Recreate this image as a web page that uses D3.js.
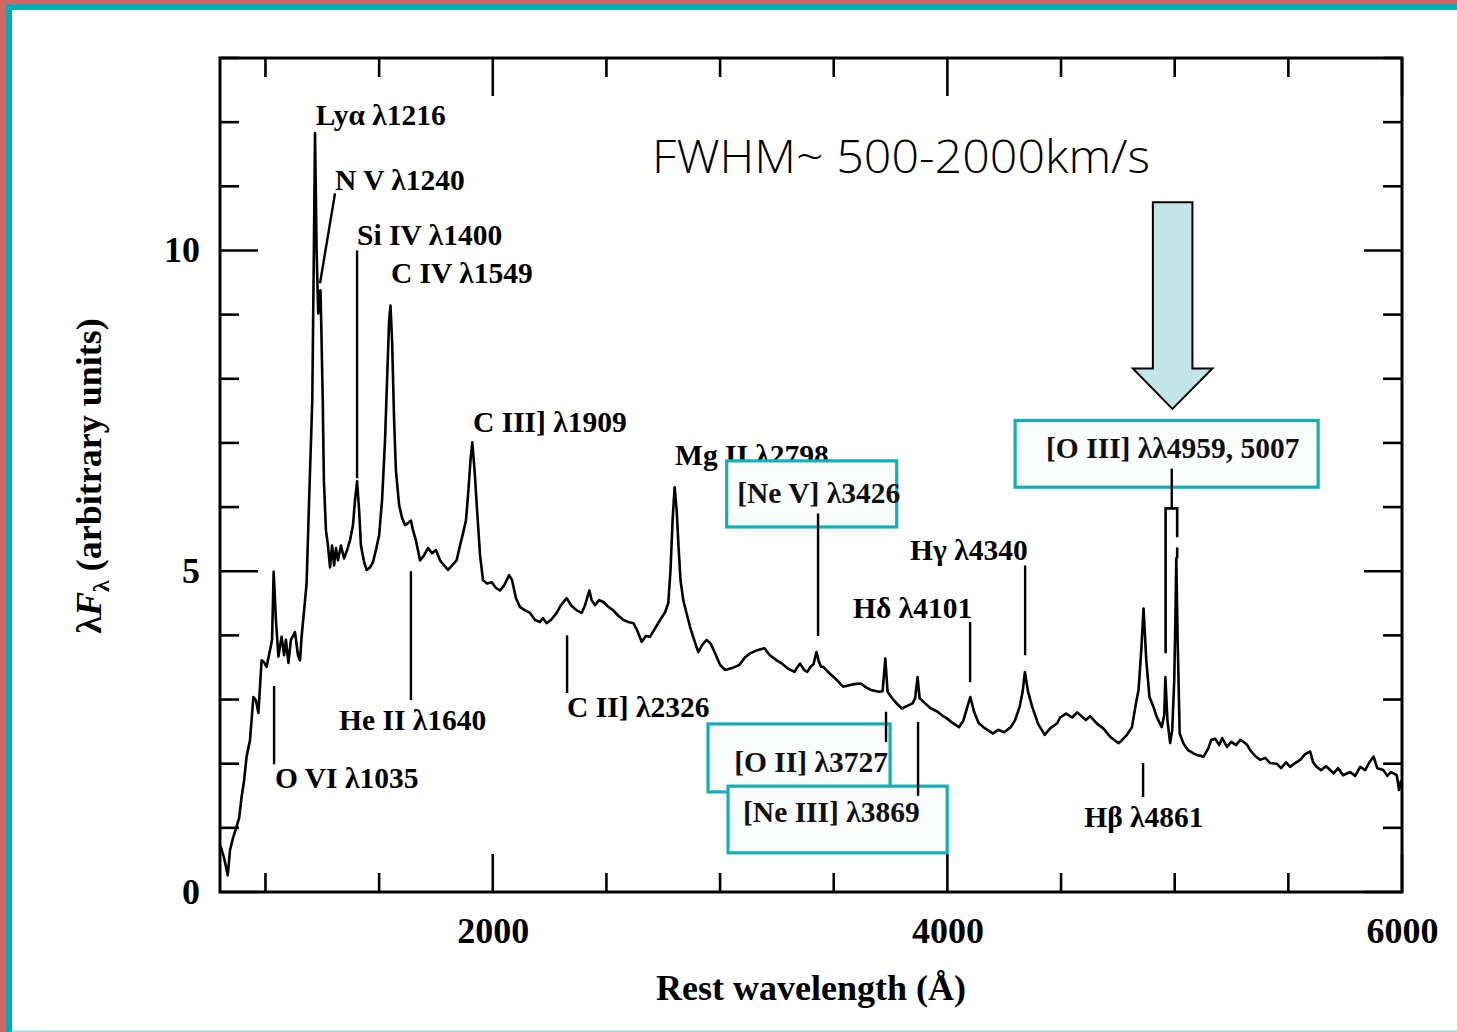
<!DOCTYPE html>
<html><head><meta charset="utf-8">
<script src="https://cdn.jsdelivr.net/npm/d3@7"></script>
<style>body{margin:0;background:#fff;overflow:hidden} svg{display:block}</style>
</head><body><svg id="c" width="1457" height="1032"></svg>
<script>
// ---- data ----
const wavelength = [803,818,834,844,857,873,884,895,906,917,932,947,958,969,983,994,1005,1020,1029,1036,1046,1057,1071,1082,1090,1101,1112,1130,1143,1152,1159,1170,1181,1192,1206,1213,1218,1225,1232,1237,1242,1246,1252,1257,1266,1275,1284,1293,1302,1310,1319,1332,1346,1359,1372,1385,1394,1403,1412,1420,1434,1445,1460,1473,1486,1500,1513,1526,1535,1544,1550,1557,1566,1574,1588,1601,1614,1627,1640,1649,1662,1680,1698,1715,1733,1750,1768,1786,1803,1821,1841,1856,1869,1882,1891,1902,1910,1920,1931,1944,1957,1975,1995,2014,2032,2050,2072,2085,2102,2120,2142,2164,2186,2208,2221,2237,2256,2281,2300,2325,2344,2369,2391,2406,2425,2435,2450,2468,2487,2507,2530,2551,2575,2595,2619,2635,2655,2674,2692,2714,2736,2758,2772,2782,2791,2800,2809,2817,2826,2838,2855,2868,2886,2904,2921,2941,2959,2982,3000,3022,3053,3085,3110,3132,3163,3195,3219,3249,3273,3299,3328,3339,3352,3370,3383,3400,3411,3424,3433,3444,3454,3475,3497,3515,3541,3563,3590,3619,3642,3664,3698,3715,3727,3737,3757,3779,3800,3823,3847,3858,3869,3878,3902,3928,3957,3977,3996,4021,4051,4069,4085,4101,4118,4138,4166,4201,4223,4250,4279,4298,4318,4331,4341,4355,4373,4399,4428,4452,4483,4496,4522,4549,4571,4609,4628,4659,4686,4716,4753,4769,4790,4812,4830,4841,4853,4863,4875,4889,4905,4921,4943,4954,4959,4968,4980,4989,4998,5003,5007,5013,5022,5038,5059,5083,5103,5127,5148,5161,5178,5196,5209,5230,5249,5270,5288,5303,5319,5332,5354,5376,5398,5420,5449,5468,5490,5508,5530,5552,5574,5596,5609,5625,5644,5666,5699,5719,5741,5772,5794,5816,5838,5856,5875,5891,5918,5935,5952,5977,5987,5996];
const flux = [0.71,0.53,0.26,0.65,0.84,1.02,1.15,1.48,1.74,2.11,2.37,3.04,2.99,2.79,3.61,3.58,3.51,3.77,3.93,4.99,4.24,3.67,3.98,3.69,3.93,3.57,3.93,4.05,3.69,3.61,3.98,4.39,4.81,6.11,7.66,10.0,11.83,10.0,9.02,9.33,9.38,8.75,7.66,6.42,5.64,5.40,5.06,5.40,5.09,5.36,5.17,5.40,5.20,5.33,5.48,5.72,6.11,6.40,5.95,5.40,5.14,5.02,5.06,5.14,5.33,5.56,6.11,7.04,7.98,8.91,9.14,8.60,7.35,6.57,6.03,5.83,5.72,5.75,5.79,5.64,5.48,5.17,5.25,5.36,5.28,5.33,5.17,5.09,5.02,5.09,5.17,5.40,5.59,5.79,6.18,6.73,7.01,6.57,5.95,5.25,4.86,4.81,4.83,4.74,4.70,4.78,4.94,4.86,4.58,4.44,4.39,4.35,4.24,4.21,4.27,4.19,4.24,4.35,4.47,4.58,4.47,4.39,4.35,4.47,4.70,4.55,4.47,4.55,4.52,4.45,4.39,4.31,4.24,4.21,4.19,4.08,3.90,3.99,3.98,4.11,4.24,4.36,4.50,5.02,5.79,6.31,5.95,5.40,4.86,4.55,4.31,4.13,3.93,3.74,3.85,3.93,3.87,3.69,3.54,3.46,3.49,3.54,3.66,3.72,3.77,3.80,3.69,3.61,3.56,3.48,3.43,3.50,3.56,3.46,3.43,3.52,3.55,3.74,3.61,3.51,3.51,3.43,3.36,3.30,3.20,3.22,3.24,3.25,3.19,3.15,3.12,3.13,3.64,3.12,3.02,2.93,2.86,2.90,2.94,3.02,3.35,3.02,2.94,2.86,2.81,2.75,2.71,2.64,2.57,2.66,2.85,3.04,2.80,2.63,2.55,2.47,2.53,2.49,2.57,2.68,2.89,3.12,3.43,3.12,2.89,2.62,2.45,2.55,2.63,2.72,2.78,2.72,2.80,2.68,2.74,2.62,2.55,2.42,2.32,2.37,2.45,2.57,2.95,3.15,3.77,4.42,3.61,3.04,2.90,2.73,2.57,2.76,3.35,2.68,2.32,2.52,3.30,4.24,5.20,3.93,2.47,2.32,2.21,2.16,2.13,2.11,2.24,2.37,2.39,2.29,2.40,2.26,2.34,2.29,2.37,2.34,2.29,2.21,2.12,2.06,2.09,2.01,2.00,1.93,2.02,1.95,2.01,2.06,2.15,2.19,2.02,1.95,1.90,1.96,1.85,1.93,1.82,1.87,1.81,1.95,1.90,2.02,2.11,1.93,1.90,1.81,1.87,1.82,1.59,1.74];

const xTickValues = [1000,1500,2000,2500,3000,3500,4000,4500,5000,5500,6000];
const xTickLabels = [2000,4000,6000];
const yTickValues = [0,1,2,3,4,5,6,7,8,9,10,11,12,13];
const yTickLabels = [0,5,10];

// line identifications: text anchor (wavelength, flux) and marker line
const lineNames = ["O VI λ1035","Lyα λ1216","N V λ1240","Si IV λ1400","C IV λ1549","He II λ1640","C III] λ1909","C II] λ2326","Mg II λ2798","Hδ λ4101","Hγ λ4340","Hβ λ4861"];
const nameAt = [[1042,1.62],[1221,11.95],[1306,10.95],[1403,10.08],[1552,9.49],[1324,2.52],[1913,7.17],[2327,2.73],[2802,6.65],[3585,4.27],[3836,5.17],[4602,1.02]];
const markerLines = [[1038,3.21,1038,1.99],null,[1306,10.89,1240,9.49],[1403,10.0,1403,6.45],null,[1640,5.0,1640,2.99],null,[2327,4.0,2327,3.10],null,[4100,4.21,4100,3.27],[4342,5.09,4342,3.69],[4861,2.01,4861,1.48]];

// boxed identifications
const boxNames = ["[Ne V] λ3426","[O II] λ3727","[Ne III] λ3869","[O III] λλ4959, 5007"];
const boxTextAt = [[3075,6.07],[3062,1.87],[3101,1.09],[4434,6.76]];
const boxRange = [[3029,3777,6.72,5.69],[2947,3748,2.62,1.56],[3035,3999,1.65,0.61],[4298,5631,7.35,6.31]];
const boxMarker = [[3431,5.90,3431,3.99],[3730,2.81,3730,2.34],[3871,2.65,3871,1.50],[4987,6.60,4987,5.98]];

// ---- drawing ----
const svg = d3.select("#c");
const W = 1457, H = 1032;
const x = d3.scaleLinear().domain([800,6000]).range([220,1402]);
const y = d3.scaleLinear().domain([0,13]).range([892,58]);
const SERIF = "'Liberation Serif','Times New Roman',serif";

svg.append("rect").attr("width",W).attr("height",H).attr("fill","#fff");
// slide border
svg.append("rect").attr("x",0).attr("y",0).attr("width",6).attr("height",H).attr("fill","#d26561");
svg.append("rect").attr("x",0).attr("y",0).attr("width",W).attr("height",4).attr("fill","#d26561");
svg.append("rect").attr("x",6).attr("y",4).attr("width",6).attr("height",H).attr("fill","#04adb6");
svg.append("rect").attr("x",6).attr("y",4).attr("width",W).attr("height",6).attr("fill","#04adb6");
svg.append("rect").attr("x",12).attr("y",H-1.5).attr("width",W).attr("height",1.5).attr("fill","#9fdada");

const g = svg.append("g");
const isMajorX = v => xTickLabels.includes(v);
const isMajorY = v => yTickLabels.includes(v);

// ticks (inward)
const tk = g.append("g").attr("stroke","#000").attr("stroke-width",2.6);
xTickValues.forEach(v=>{
  const L = isMajorX(v)?38:19;
  tk.append("line").attr("x1",x(v)).attr("x2",x(v)).attr("y1",y(0)).attr("y2",y(0)-L);
  tk.append("line").attr("x1",x(v)).attr("x2",x(v)).attr("y1",y(13)).attr("y2",y(13)+L);
});
yTickValues.forEach(v=>{
  const L = isMajorY(v)?38:19;
  tk.append("line").attr("y1",y(v)).attr("y2",y(v)).attr("x1",x(800)).attr("x2",x(800)+L);
  tk.append("line").attr("y1",y(v)).attr("y2",y(v)).attr("x1",x(6000)).attr("x2",x(6000)-L);
});

// tick labels through d3 axes
const xAxis = d3.axisBottom(x).tickValues(xTickLabels).tickSize(0).tickPadding(25).tickFormat(d3.format("d"));
const gx = g.append("g").attr("transform",`translate(0,${y(0)})`).call(xAxis);
const yAxis = d3.axisLeft(y).tickValues(yTickLabels).tickSize(0).tickPadding(20).tickFormat(d3.format("d"));
const gy = g.append("g").attr("transform",`translate(${x(800)},0)`).call(yAxis);
[gx,gy].forEach(a=>{a.select(".domain").remove();
  a.selectAll("text").attr("font-family",SERIF).attr("font-weight","bold").attr("font-size",36).attr("fill","#000");});

// frame
g.append("rect").attr("x",x(800)).attr("y",y(13)).attr("width",x(6000)-x(800)).attr("height",y(0)-y(13))
 .attr("fill","none").attr("stroke","#000").attr("stroke-width",3);

// spectrum
const pts = wavelength.map((w,i)=>[w,flux[i]]);
g.append("path").datum(pts).attr("fill","none").attr("stroke","#000").attr("stroke-width",2.6)
 .attr("stroke-linejoin","round")
 .attr("d",d3.line().x(d=>x(d[0])).y(d=>y(d[1])));

// [O III] broken peak bracket
g.append("path").attr("fill","none").attr("stroke","#000").attr("stroke-width",2.6)
 .attr("d",d3.line()([[x(4960),y(3.72)],[x(4960),y(5.98)],[x(5011),y(5.98)],[x(5011),y(5.53)]]));
g.append("path").attr("fill","none").attr("stroke","#000").attr("stroke-width",2.6)
 .attr("d",d3.line()([[x(5011),y(5.37)],[x(5011),y(5.20)]]));

// identification labels
lineNames.forEach((t,i)=>{
  g.append("text").attr("x",x(nameAt[i][0])).attr("y",y(nameAt[i][1]))
    .attr("font-family",SERIF).attr("font-weight","bold").attr("font-size",29.5).attr("fill","#000").text(t);
});

// boxes
boxNames.forEach((t,i)=>{
  const b = boxRange[i];
  g.append("rect").attr("x",x(b[0])).attr("y",y(b[2])).attr("width",x(b[1])-x(b[0])).attr("height",y(b[3])-y(b[2]))
   .attr("fill","#fbfcfc").attr("stroke","#13afb6").attr("stroke-width",3.2);
});
boxNames.forEach((t,i)=>{
  g.append("text").attr("x",x(boxTextAt[i][0])).attr("y",y(boxTextAt[i][1]))
   .attr("font-family",SERIF).attr("font-weight","bold").attr("font-size",29.5).attr("fill","#111").text(t);
});

// marker lines on top
const ml = g.append("g").attr("stroke","#000").attr("stroke-width",2.4);
markerLines.concat(boxMarker).forEach(m=>{
  if(!m) return;
  ml.append("line").attr("x1",x(m[0])).attr("y1",y(m[1])).attr("x2",x(m[2])).attr("y2",y(m[3]));
});

// arrow
const arrowPts = [[4904,10.75],[5078,10.75],[5078,8.16],[5166,8.16],[4990,7.53],[4816,8.16],[4904,8.16]];
g.append("path").attr("fill","#c4e5e7").attr("stroke","#000").attr("stroke-width",2)
 .attr("stroke-linejoin","miter")
 .attr("d",d3.line().x(d=>x(d[0])).y(d=>y(d[1])).curve(d3.curveLinearClosed)(arrowPts));

// FWHM note
g.append("text").attr("x",x(2701)).attr("y",y(11.2))
 .attr("font-family","'Open Sans','Lato','DejaVu Sans',sans-serif").attr("font-weight",300)
 .attr("font-size",46).attr("fill","#000").attr("textLength",498).attr("lengthAdjust","spacingAndGlyphs")
 .text("FWHM~ 500-2000km/s");

// axis titles
g.append("text").attr("x",811).attr("y",1000).attr("text-anchor","middle")
 .attr("font-family",SERIF).attr("font-weight","bold").attr("font-size",36).attr("fill","#000")
 .text("Rest wavelength (Å)");
const yt = g.append("text").attr("transform","translate(101,476) rotate(-90)").attr("text-anchor","middle")
 .attr("font-family",SERIF).attr("font-weight","bold").attr("font-size",36).attr("fill","#000");
yt.append("tspan").text("λ");
yt.append("tspan").attr("font-style","italic").text("F");
yt.append("tspan").attr("font-size",24).attr("dy",8).text("λ");
yt.append("tspan").attr("dy",-8).text(" (arbitrary units)");
</script>
</body></html>
